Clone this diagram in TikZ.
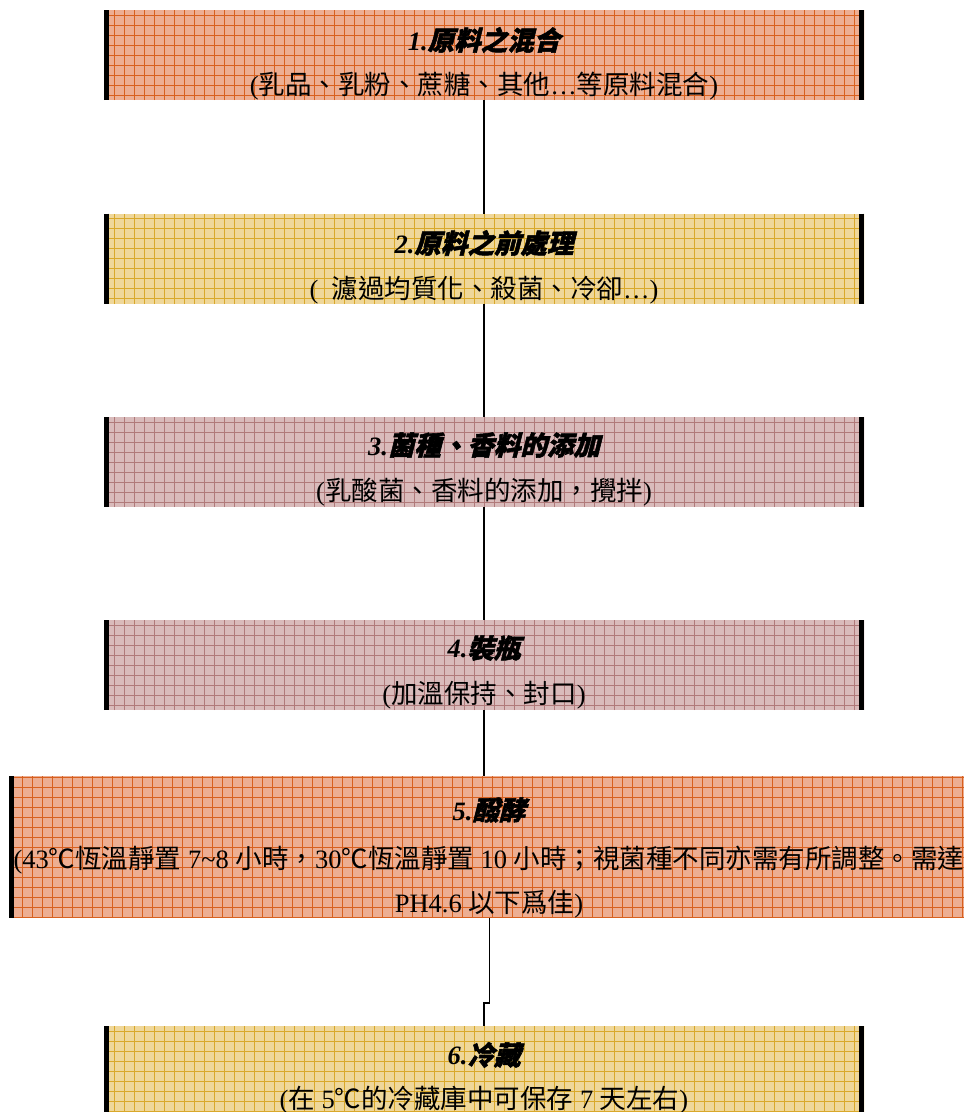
\documentclass[tikz,border=0pt]{standalone}
\usepackage{fontspec}
\setmainfont{Liberation Serif}
\newfontfamily\cjk{Noto Sans CJK TC}
\newfontfamily\cjkt[FakeBold=2,FakeSlant=0.25]{Noto Sans CJK TC}
\usetikzlibrary{calc}
\definecolor{orfill}{HTML}{EDAE92}
\definecolor{orline}{HTML}{D8601E}
\definecolor{yefill}{HTML}{EFD79A}
\definecolor{yeline}{HTML}{D9A82A}
\definecolor{mafill}{HTML}{D9BBBB}
\definecolor{maline}{HTML}{B07A7A}
\tikzset{
  box/.style 2 args={inner sep=0pt, outer sep=0pt, minimum height=90pt, fill=#1,
    path picture={\draw[#2, line width=0.55pt, step=10pt]
      (path picture bounding box.south west) grid (path picture bounding box.north east);}},
  bar/.style={line width=5pt, black},
  conn/.style={line width=1.3pt, black},
  txt/.style={inner sep=0pt, font=\fontsize{26.5}{30}\selectfont},
  ttl/.style={inner sep=0pt, font=\fontsize{26.5}{30}\selectfont\bfseries\itshape},
}
\begin{document}
\begin{tikzpicture}[x=1pt,y=-1pt]
\useasboundingbox (0,0) rectangle (964,1112);
% boxes
\node[box={orfill}{orline}, minimum width=760pt] (b1) at (484,55) {};
\node[box={yefill}{yeline}, minimum width=760pt] (b2) at (484,258.5) {};
\node[box={mafill}{maline}, minimum width=760pt] (b3) at (484,462) {};
\node[box={mafill}{maline}, minimum width=760pt] (b4) at (484,665) {};
\node[box={orfill}{orline}, minimum width=966pt, minimum height=142pt] (b5) at (492,847) {};
\node[box={yefill}{yeline}, minimum width=760pt] (b6) at (484,1071) {};
% side bars
\foreach \b in {b1,b2,b3,b4,b6}{
  \draw[bar] ([xshift=2.5pt]\b.north west) -- ([xshift=2.5pt]\b.south west);
  \draw[bar] ([xshift=-2.5pt]\b.north east) -- ([xshift=-2.5pt]\b.south east);
}
\draw[bar] ([xshift=2.5pt]b5.north west) -- ([xshift=2.5pt]b5.south west);
% texts
\node[ttl] (t1) at (484,40) {1.{\cjkt 原料之混合}};
\node[txt] (s1) at (484,86) {({\cjk 乳品、乳粉、蔗糖、其他}…{\cjk 等原料混合})};
\node[ttl] (t2) at (484,243) {2.{\cjkt 原料之前處理}};
\node[txt] (s2) at (484,290) {(\ \ {\cjk 濾過均質化、殺菌、冷卻}…)};
\node[ttl] (t3) at (484,445) {3.{\cjkt 菌種、香料的添加}};
\node[txt] (s3) at (484,492) {({\cjk 乳酸菌、香料的添加，攪拌})};
\node[ttl] (t4) at (484,648) {4.{\cjkt 裝瓶}};
\node[txt] (s4) at (484,695) {({\cjk 加溫保持、封口})};
\node[ttl] (t5) at (489,810) {5.{\cjkt 醱酵}};
\node[txt] (s5a) at (489,860) {(43{\cjk ℃恆溫靜置} 7\symbol{126}8 {\cjk 小時，}30{\cjk ℃恆溫靜置} 10 {\cjk 小時；視菌種不同亦需有所調整。需達}};
\node[txt] (s5b) at (489,904) {PH4.6 {\cjk 以下爲佳})};
\node[ttl] (t6) at (484,1055) {6.{\cjkt 冷藏}};
\node[txt] (s6) at (484,1100) {({\cjk 在} 5{\cjk ℃的冷藏庫中可保存} 7 {\cjk 天左右})};
% connectors
\draw[conn] (b1.south) -- (b2.north);
\draw[conn] (b2.south) -- (b3.north);
\draw[conn] (b3.south) -- (b4.north);
\draw[conn] (b4.south) -- (b4.south |- b5.north);
\coordinate (k) at (489.5,1003);
\draw[conn] (b5.south -| k) -- (k) -- (k -| b6.north) -- (b6.north);
\end{tikzpicture}
\end{document}
